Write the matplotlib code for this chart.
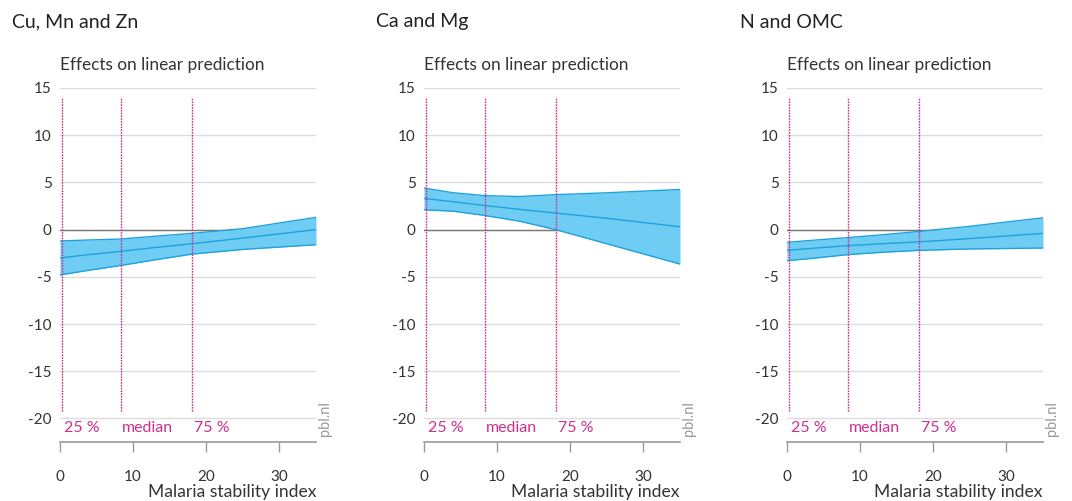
import matplotlib.pyplot as plt

plt.rcParams['font.family'] = ['Lato', 'DejaVu Sans']

# panel titles
titles = ["Cu, Mn and Zn", "Ca and Mg", "N and OMC"]

x_pts = [0, 4, 8.3, 13, 18, 25, 35]

# upper bound, mean, lower bound per panel
upper = [
    [-1.2, -1.1, -1.0, -0.7, -0.4, 0.1, 1.3],
    [4.4, 3.9, 3.6, 3.5, 3.7, 3.9, 4.25],
    [-1.35, -1.1, -0.85, -0.55, -0.2, 0.35, 1.25],
]
mean = [
    [-3.0, -2.65, -2.3, -1.9, -1.5, -0.9, 0.0],
    [3.3, 2.95, 2.55, 2.15, 1.75, 1.2, 0.3],
    [-2.2, -1.95, -1.7, -1.5, -1.3, -0.95, -0.4],
]
lower = [
    [-4.8, -4.3, -3.8, -3.2, -2.6, -2.1, -1.6],
    [2.1, 1.95, 1.5, 0.9, 0.0, -1.5, -3.65],
    [-3.3, -3.0, -2.65, -2.4, -2.2, -2.05, -1.95],
]

# quartiles of the malaria stability index
quart_x = [0.3, 8.3, 18.1]
quart_labels = ["25 %", "median", "75 %"]

y_ticks = [15, 10, 5, 0, -5, -10, -15, -20]
x_ticks = [0, 10, 20, 30]

band_fill = "#6fcdf4"
band_edge = "#1ea2dc"
magenta = "#cc2f8c"
text_col = "#333333"

fig = plt.figure(figsize=(10.72, 5.01), dpi=100)

lefts = [60, 424, 787]
for i in range(3):
    ax = fig.add_axes([lefts[i] / 1072, 1 - 442 / 501, 256 / 1072, 354 / 501])
    ax.set_xlim(0, 35)
    ax.set_ylim(-22.5, 15)

    for yt in y_ticks:
        ax.axhline(yt, color="#dddddd", lw=1, zorder=0)
    ax.axhline(0, color="#777777", lw=1, zorder=1)

    ax.fill_between(x_pts, lower[i], upper[i], color=band_fill, lw=0, zorder=2)
    ax.plot(x_pts, upper[i], color=band_edge, lw=1, zorder=3)
    ax.plot(x_pts, lower[i], color=band_edge, lw=1, zorder=3)
    ax.plot(x_pts, mean[i], color=band_edge, lw=1, zorder=3)

    for qx, ql in zip(quart_x, quart_labels):
        ax.vlines(qx, -19.2, 14.0, color=magenta, lw=1, linestyles=(0, (1.2, 0.8)), zorder=4)
        ax.text(qx + 0.2, -21.0, ql, color=magenta, fontsize=11.5, va="center", ha="left")

    for s in ["top", "right", "left"]:
        ax.spines[s].set_visible(False)
    ax.spines["bottom"].set_color("#999999")
    ax.spines["bottom"].set_linewidth(1.2)

    ax.set_yticks(y_ticks)
    ax.set_yticklabels([str(v) for v in y_ticks])
    ax.tick_params(axis="y", length=0, pad=6, labelsize=11, labelcolor=text_col)
    ax.set_xticks(x_ticks)
    ax.tick_params(axis="x", direction="out", length=7, width=1, color="#999999",
                   pad=13, labelsize=11, labelcolor=text_col)

    ax.text(1.0, -0.14, "Malaria stability index", transform=ax.transAxes,
            ha="right", va="center", fontsize=12.6, color=text_col)
    ax.text(0.0, 1.065, "Effects on linear prediction", transform=ax.transAxes,
            ha="left", va="center", fontsize=12.4, color=text_col)
    ax.text(1.035, -20.0, "pbl.nl", rotation=90, transform=ax.get_yaxis_transform(),
            ha="center", va="center", fontsize=10.5, color="#999999")

title_x = [12, 376, 740]
for tx, t in zip(title_x, titles):
    fig.text(tx / 1072, 1 - 22 / 501, t, ha="left", va="center", fontsize=14, color="#222222")

fig.savefig("out.png", dpi=100)
